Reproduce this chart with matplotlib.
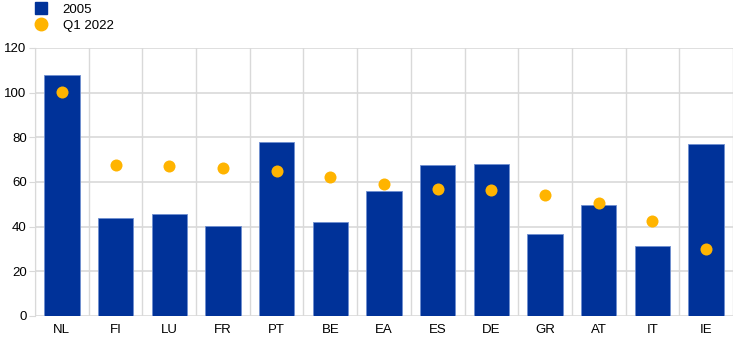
import numpy as np
import matplotlib.pyplot as plt
from matplotlib.lines import Line2D

plt.rcParams['font.family'] = ['Liberation Sans', 'DejaVu Sans']

countries = ["NL", "FI", "LU", "FR", "PT", "BE", "EA", "ES", "DE", "GR", "AT", "IT", "IE"]
values_2005 = [108.0, 43.8, 45.6, 40.5, 77.9, 42.3, 55.9, 67.7, 68.2, 36.8, 49.8, 31.5, 77.1]
values_q1_2022 = [100.1, 67.7, 67.3, 66.4, 64.9, 62.3, 59.3, 56.9, 56.2, 54.4, 50.7, 42.7, 30.0]
yticks = [0, 20, 40, 60, 80, 100, 120]

blue = "#003299"
yellow = "#FFB400"
grid_c = "#d9d9d9"

fig = plt.figure(figsize=(7.44, 3.44), dpi=100)
ax = fig.add_axes([35 / 744, 28 / 344, 698 / 744, 268 / 344])

x = np.arange(len(countries))
ax.bar(x, values_2005, width=0.66, color=blue, edgecolor="#6f8fd0", linewidth=0.6, zorder=2)
ax.scatter(x, values_q1_2022, s=75, color=yellow, zorder=3, linewidths=0)

ax.set_xlim(-0.5, len(countries) - 0.5)
ax.set_ylim(0, 120)
ax.set_yticks(yticks)
ax.set_xticks(x)
ax.set_xticklabels(countries)

for yv in yticks[1:]:
    ax.axhline(yv, color=grid_c, linewidth=1.2, zorder=0)
for b in np.arange(-0.5, len(countries), 1.0):
    ax.axvline(b, color=grid_c, linewidth=1.0, zorder=0)

for s in ["top", "right", "bottom"]:
    ax.spines[s].set_visible(False)
ax.spines["left"].set_color(grid_c)
ax.axhline(0, color=grid_c, linewidth=1.2, zorder=1)
ax.tick_params(axis="y", length=4, color=grid_c, labelsize=9.5, pad=2)
ax.tick_params(axis="x", length=0, labelsize=9.5, pad=6)

handles = [
    Line2D([], [], marker="s", linestyle="none", color=blue, markersize=8),
    Line2D([], [], marker="o", linestyle="none", color=yellow, markersize=9),
]
fig.legend(handles, ["2005", "Q1 2022"], loc="upper left", bbox_to_anchor=(19 / 744, 1.025),
           frameon=False, fontsize=9.5, handletextpad=0.9, labelspacing=0.3,
           handlelength=1.5)

fig.savefig("out.png", dpi=100)
